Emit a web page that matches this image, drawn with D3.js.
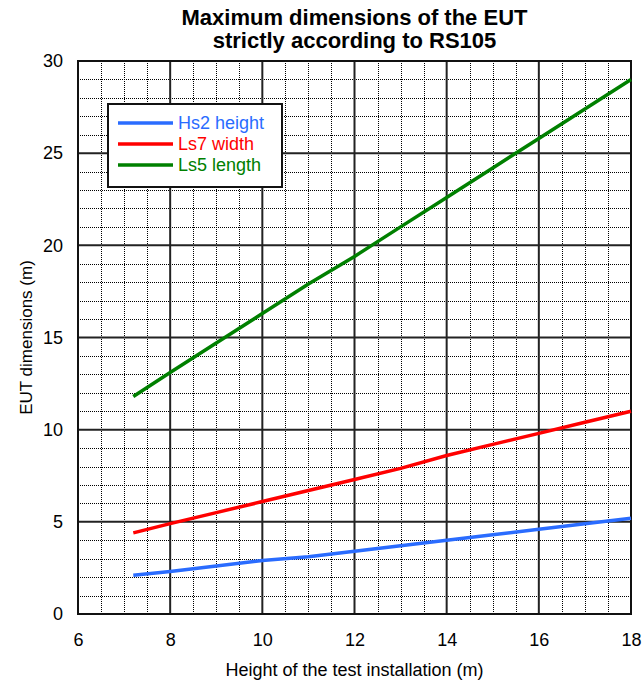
<!DOCTYPE html>
<html>
<head>
<meta charset="utf-8">
<script src="https://cdn.jsdelivr.net/npm/d3@7"></script>
<style>
  body { margin: 0; background: #fff; }
  svg text { font-family: "Liberation Sans", Arial, sans-serif; }
</style>
</head>
<body>
<svg id="chart" width="642" height="691"></svg>
<script>
// data
const heights = [7.2, 8, 9, 10, 11, 12, 13, 14, 15, 16, 17, 18];
const hs2Height = [2.1, 2.3, 2.6, 2.9, 3.1, 3.4, 3.7, 4.0, 4.3, 4.6, 4.9, 5.2];
const ls7Width = [4.4, 4.9, 5.5, 6.1, 6.7, 7.3, 7.9, 8.6, 9.2, 9.8, 10.4, 11.0];
const ls5Length = [11.8, 13.1, 14.7, 16.3, 17.9, 19.4, 21.0, 22.6, 24.2, 25.8, 27.4, 29.0];
const seriesNames = ['Hs2 height', 'Ls7 width', 'Ls5 length'];
const seriesColors = ['#2a6cff', '#ff0000', '#008000'];
const xTicks = [6, 8, 10, 12, 14, 16, 18];
const yTicks = [0, 5, 10, 15, 20, 25, 30];

const svg = d3.select('#chart');
const margin = { left: 78, right: 11, top: 61, bottom: 77 };
const W = 642, H = 691;

const x = d3.scaleLinear().domain([6, 18]).range([margin.left, W - margin.right]);
const y = d3.scaleLinear().domain([0, 30]).range([H - margin.bottom, margin.top]);
const px = v => Math.round(x(v)) + 0.5;
const py = v => Math.round(y(v)) + 0.5;

// minor grid (dotted)
const grid = svg.append('g');
grid.selectAll('.vminor')
  .data(d3.range(6.5, 18, 0.5).filter(v => v % 2 !== 0))
  .enter().append('line')
  .attr('x1', d => px(d)).attr('x2', d => px(d))
  .attr('y1', y(0)).attr('y2', y(30))
  .attr('stroke', '#000').attr('stroke-width', 1)
  .attr('stroke-dasharray', '1,1');
grid.selectAll('.hminor')
  .data(d3.range(1, 30, 1).filter(v => v % 5 !== 0))
  .enter().append('line')
  .attr('x1', x(6)).attr('x2', x(18))
  .attr('y1', d => py(d)).attr('y2', d => py(d))
  .attr('stroke', '#000').attr('stroke-width', 1)
  .attr('stroke-dasharray', '1,1');

// major grid
grid.selectAll('.vmajor')
  .data(xTicks)
  .enter().append('line')
  .attr('x1', d => x(d)).attr('x2', d => x(d))
  .attr('y1', y(0)).attr('y2', y(30))
  .attr('stroke', '#222').attr('stroke-width', 2);
grid.selectAll('.hmajor')
  .data(yTicks)
  .enter().append('line')
  .attr('x1', x(6)).attr('x2', x(18))
  .attr('y1', d => y(d)).attr('y2', d => y(d))
  .attr('stroke', '#222').attr('stroke-width', 2);

svg.append('rect')
  .attr('x', x(6)).attr('y', y(30))
  .attr('width', x(18) - x(6)).attr('height', y(0) - y(30))
  .attr('fill', 'none').attr('stroke', '#111').attr('stroke-width', 2);

// axes (labels only)
const xAxis = svg.append('g')
  .attr('transform', `translate(0,${y(0)})`)
  .call(d3.axisBottom(x).tickValues(xTicks).tickSize(0).tickPadding(19));
const yAxis = svg.append('g')
  .attr('transform', `translate(${x(6)},0)`)
  .call(d3.axisLeft(y).tickValues(yTicks).tickSize(0).tickPadding(15));
[xAxis, yAxis].forEach(a => {
  a.select('.domain').remove();
  a.selectAll('text').attr('font-size', 18).attr('fill', '#000')
    .style('font-family', '"Liberation Sans", Arial, sans-serif');
});

// lines
const allSeries = [hs2Height, ls7Width, ls5Length];
const line = d3.line().x((d, i) => x(heights[i])).y(d => y(d));
allSeries.forEach((vals, k) => {
  svg.append('path')
    .datum(vals)
    .attr('d', line)
    .attr('fill', 'none')
    .attr('stroke', seriesColors[k])
    .attr('stroke-width', 3.5);
});

// legend
const lg = svg.append('g');
lg.append('rect')
  .attr('x', 108).attr('y', 104).attr('width', 174).attr('height', 83)
  .attr('fill', '#fff').attr('stroke', '#111').attr('stroke-width', 2);
seriesNames.forEach((name, k) => {
  const cy = 123 + k * 21;
  lg.append('line')
    .attr('x1', 118).attr('x2', 173).attr('y1', cy).attr('y2', cy)
    .attr('stroke', seriesColors[k]).attr('stroke-width', 3.5);
  lg.append('text')
    .attr('x', 178).attr('y', cy + 6)
    .attr('font-size', 18).attr('fill', seriesColors[k])
    .text(name);
});

// titles
svg.append('text')
  .attr('x', (x(6) + x(18)) / 2).attr('y', 25)
  .attr('text-anchor', 'middle').attr('font-size', 22).attr('font-weight', 'bold')
  .text('Maximum dimensions of the EUT');
svg.append('text')
  .attr('x', (x(6) + x(18)) / 2).attr('y', 48)
  .attr('text-anchor', 'middle').attr('font-size', 22).attr('font-weight', 'bold')
  .text('strictly according to RS105');

svg.append('text')
  .attr('x', (x(6) + x(18)) / 2).attr('y', 676)
  .attr('text-anchor', 'middle').attr('font-size', 18)
  .text('Height of the test installation (m)');
svg.append('text')
  .attr('transform', `translate(32,${(y(0) + y(30)) / 2}) rotate(-90)`)
  .attr('text-anchor', 'middle').attr('font-size', 17)
  .text('EUT dimensions (m)');
</script>
</body>
</html>
